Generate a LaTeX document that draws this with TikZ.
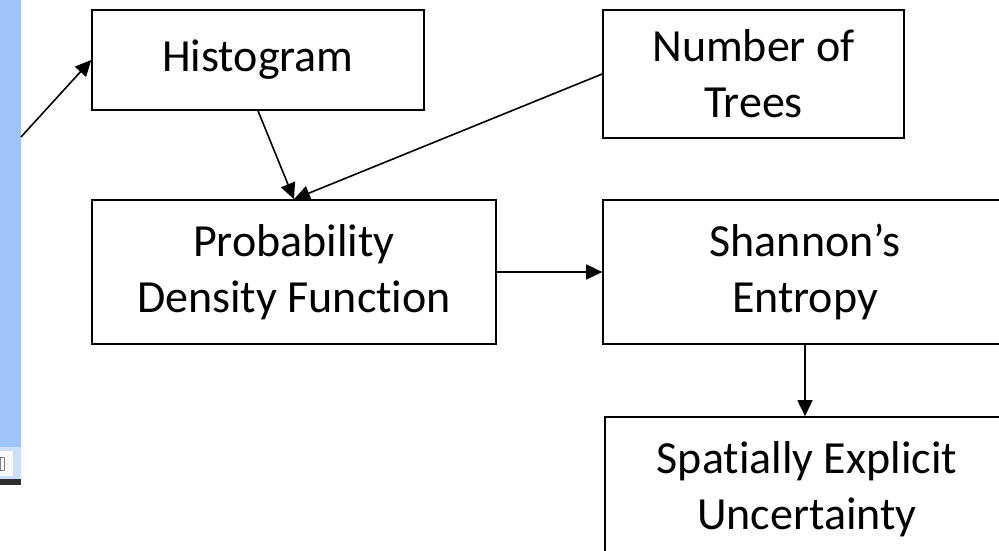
\documentclass[tikz,border=0pt]{standalone}
\usepackage{fontspec}
\setmainfont{Carlito}[Ligatures={NoCommon}]
\usetikzlibrary{arrows.meta}
\definecolor{barblue}{RGB}{160,195,248}
\definecolor{barlight}{RGB}{205,223,248}
\definecolor{bardark}{RGB}{45,45,45}
\tikzset{
  box/.style={draw=black, line width=1.6pt, inner sep=0pt, align=center,
    font=\fontsize{46}{56}\selectfont},
  arr/.style={line width=1.6pt, -{Triangle[length=16pt,width=15pt]}}
}
\begin{document}
\begin{tikzpicture}[x=1pt,y=-1pt]
\clip (0,0) rectangle (999,550);
\fill[white] (0,0) rectangle (999,550);
% blue side bar
\fill[barblue] (0,0) rectangle (21,447);
\fill[barlight] (0,447) rectangle (21,479);
\fill[white!95!gray] (0,451) rectangle (13,476);
\draw[gray, line width=0.8pt] (0,457) rectangle (4,470);
\fill[bardark] (0,479) rectangle (21,485);
% boxes
\node[box, minimum width=332pt, minimum height=100pt] (hist) at (258,60) {Histogram};
\node[box, minimum width=301pt, minimum height=128pt] (trees) at (753.5,74) {Number of\\Trees};
\node[box, minimum width=404pt, minimum height=144pt] (pdf) at (294,272) {Probability\\Density Function};
\node[box, minimum width=404pt, minimum height=144pt] (shan) at (805,272) {Shannon’s\\Entropy};
\node[box, minimum width=404pt, minimum height=144pt] (spat) at (807,489) {Spatially Explicit\\Uncertainty};
% connectors
\coordinate (src) at (21,137);
\draw[arr] (src) -- (hist.west);
\draw[arr] (hist.south) -- (pdf.north);
\draw[arr] (trees.west) -- (pdf.north);
\draw[arr] (pdf.east) -- (shan.west);
\draw[arr] (shan.south) -- (shan.south |- spat.north);
\end{tikzpicture}
\end{document}
